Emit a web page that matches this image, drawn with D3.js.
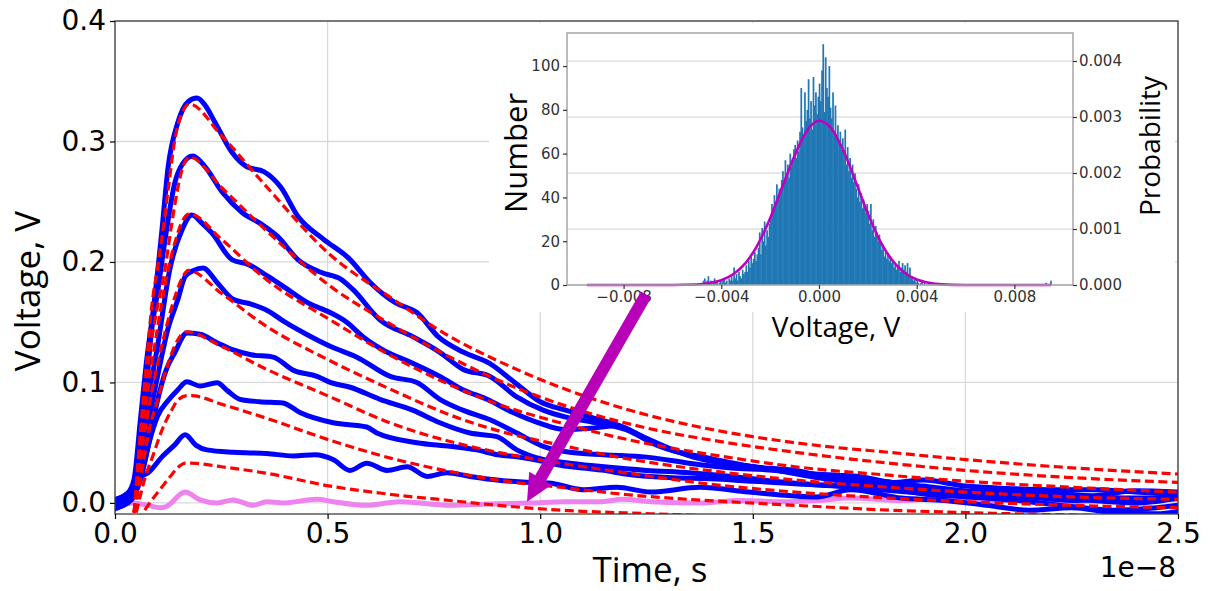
<!DOCTYPE html>
<html><head><meta charset="utf-8">
<script src="https://cdn.jsdelivr.net/npm/d3@7"></script>
<style>body{margin:0;background:#fff} svg{display:block}</style>
</head><body>
<svg id="c" width="1210" height="591"></svg>
<script>
// ---------------- DATA ----------------
const xTicks = [0, 0.5, 1.0, 1.5, 2.0, 2.5];
const yTicks = [0, 0.1, 0.2, 0.3, 0.4];
const xOffsetLabel = "1e\u22128";

// measured pulses (time in 1e-8 s, voltage V)
const measured1 = [[0,.003],[.03,.008],[.045,.02],[.06,.07],[.075,.12],[.09,.16],[.11,.225],[.125,.279],[.148,.316],[.172,.333],[.193,.336],[.21,.331],[.235,.316],[.275,.291],[.31,.279],[.35,.275],[.39,.262],[.43,.238],[.49,.219],[.55,.203],[.60,.183],[.66,.166],[.71,.158],[.76,.138],[.82,.125],[.88,.116],[.94,.100],[1.0,.084],[1.06,.077],[1.12,.071],[1.18,.065],[1.26,.052],[1.36,.038],[1.45,.032],[1.5,.030],[1.6,.025],[1.7,.023],[1.75,.022],[1.83,.017],[1.9,.019],[2.0,.014],[2.1,.012],[2.2,.011],[2.3,.011],[2.4,.009],[2.5,.007]];
const measured2 = [[0,-.004],[.03,0],[.05,.02],[.07,.08],[.085,.14],[.101,.177],[.118,.219],[.141,.266],[.16,.282],[.183,.288],[.212,.279],[.252,.258],[.299,.241],[.346,.231],[.383,.221],[.43,.202],[.487,.191],[.53,.186],[.56,.177],[.623,.152],[.70,.138],[.764,.125],[.818,.111],[.882,.105],[.945,.088],[1.007,.077],[1.063,.071],[1.124,.067],[1.2,.061],[1.28,.047],[1.4,.036],[1.5,.030],[1.6,.027],[1.7,.020],[1.8,.018],[1.9,.014],[2.0,.010],[2.1,.008],[2.2,.006],[2.3,.002],[2.4,0],[2.5,.004]];
const measured3 = [[0,.002],[.04,.01],[.06,.04],[.08,.09],[.10,.13],[.129,.194],[.158,.227],[.181,.239],[.205,.232],[.228,.224],[.275,.202],[.313,.198],[.36,.188],[.407,.177],[.454,.166],[.506,.158],[.545,.150],[.583,.138],[.63,.127],[.70,.116],[.764,.105],[.818,.094],[.875,.086],[.936,.075],[1.0,.066],[1.054,.061],[1.12,.062],[1.18,.064],[1.24,.055],[1.3,.045],[1.4,.037],[1.5,.030],[1.6,.025],[1.7,.020],[1.8,.016],[1.9,.013],[2.0,.009],[2.1,.010],[2.2,.006],[2.3,.005],[2.4,.004],[2.5,.005]];
const measured4 = [[0,-.005],[.04,.005],[.06,.03],[.08,.07],[.10,.105],[.125,.145],[.148,.169],[.165,.188],[.185,.193],[.207,.195],[.24,.183],[.278,.169],[.32,.165],[.357,.160],[.40,.150],[.45,.140],[.506,.130],[.569,.121],[.647,.105],[.71,.100],[.764,.086],[.818,.077],[.882,.069],[.945,.058],[1.007,.047],[1.07,.042],[1.15,.040],[1.25,.038],[1.35,.033],[1.45,.029],[1.55,.027],[1.65,.021],[1.75,.016],[1.85,.012],[1.95,.009],[2.05,.004],[2.15,.001],[2.25,-.003],[2.35,-.006],[2.45,-.004],[2.5,-.002]];
const measured5 = [[0,0],[.04,.005],[.06,.02],[.08,.05],[.10,.085],[.12,.11],[.141,.125],[.169,.141],[.20,.140],[.24,.133],[.278,.127],[.32,.123],[.372,.121],[.42,.110],[.475,.105],[.506,.100],[.553,.096],[.623,.086],[.70,.077],[.764,.0665],[.835,.058],[.898,.055],[.945,.044],[1.007,.036],[1.07,.033],[1.15,.030],[1.25,.027],[1.35,.025],[1.45,.022],[1.55,.018],[1.65,.015],[1.75,.013],[1.85,.010],[1.95,.006],[2.05,.008],[2.15,.005],[2.25,.002],[2.35,.003],[2.5,.004]];
const measured6 = [[0,-.004],[.04,.003],[.06,.02],[.08,.05],[.10,.072],[.125,.085],[.148,.094],[.169,.1006],[.20,.097],[.24,.0997],[.265,.093],[.294,.086],[.34,.084],[.395,.083],[.435,.075],[.513,.0665],[.592,.063],[.616,.058],[.71,.050],[.788,.047],[.85,.044],[.9,.040],[.95,.038],[1.0,.035],[1.05,.031],[1.1,.029],[1.15,.027],[1.2,.024],[1.3,.021],[1.4,.020],[1.5,.018],[1.6,.016],[1.7,.014],[1.8,.011],[1.9,.008],[2.0,.005],[2.1,.004],[2.2,.008],[2.3,.006],[2.4,.010],[2.5,.009]];
const measured7 = [[0,.002],[.03,.008],[.05,.015],[.063,.022],[.078,.025],[.11,.038],[.14,.048],[.165,.0565],[.19,.048],[.216,.044],[.28,.042],[.357,.041],[.42,.039],[.47,.040],[.513,.036],[.553,.027],[.592,.033],[.64,.027],[.687,.030],[.734,.022],[.78,.025],[.835,.022],[.898,.019],[.976,.017],[1.02,.0166],[1.10,.011],[1.18,.013],[1.26,.009],[1.376,.013],[1.49,.009],[1.65,.005],[1.73,.011],[1.85,.004],[1.95,.002],[2.05,-.002],[2.15,-.006],[2.25,-.004],[2.35,-.008],[2.45,-.009],[2.5,-.007]];
const noiseTrace = [[0,-.002],[.042,0],[.078,-.002],[.106,-.004],[.12,-.003],[.165,.009],[.2,.0025],[.24,0],[.278,.0025],[.325,-.002],[.357,.001],[.395,0],[.475,.003],[.513,.001],[.592,-.002],[.67,.001],[.788,-.002],[.88,-.001],[.98,0],[1.06,.001],[1.14,.001],[1.195,.003],[1.26,.001],[1.376,0],[1.47,.002],[1.57,.001],[1.65,.002],[1.73,.004],[1.85,.002],[1.95,.004],[2.05,.002],[2.15,.003],[2.25,.001],[2.35,.002],[2.5,.003]];

// fitted pulses
const fit1 = [[.045,-.008],[.06,.06],[.075,.12],[.087,.165],[.10,.195],[.11,.219],[.125,.26],[.141,.302],[.158,.324],[.175,.331],[.25,.305],[.35,.265],[.506,.206],[.65,.170],[.788,.138],[.9,.118],[1.047,.096],[1.2,.078],[1.36,.064],[1.5,.055],[1.67,.047],[1.82,.042],[2.0,.036],[2.215,.030],[2.5,.024]];
const fit2 = [[.045,-.008],[.06,.05],[.08,.12],[.10,.163],[.118,.195],[.134,.233],[.158,.277],[.175,.287],[.25,.262],[.35,.228],[.506,.180],[.65,.148],[.788,.121],[.9,.102],[1.047,.082],[1.24,.063],[1.44,.050],[1.6,.042],[1.82,.033],[2.0,.027],[2.25,.021],[2.5,.017]];
const fit3 = [[.045,-.008],[.06,.045],[.08,.10],[.10,.145],[.12,.185],[.14,.215],[.16,.235],[.175,.240],[.25,.219],[.35,.187],[.506,.152],[.65,.122],[.788,.098],[.9,.082],[1.047,.0665],[1.2,.053],[1.44,.038],[1.6,.030],[1.82,.023],[2.0,.018],[2.25,.013],[2.5,.009]];
const fit4 = [[.045,-.008],[.06,.035],[.08,.08],[.10,.115],[.12,.145],[.14,.170],[.16,.188],[.172,.193],[.25,.174],[.35,.148],[.506,.118],[.65,.094],[.788,.073],[.9,.060],[1.047,.048],[1.2,.037],[1.44,.025],[1.6,.019],[1.82,.013],[2.0,.009],[2.25,.005],[2.5,.003]];
const fit5 = [[.045,-.008],[.065,.03],[.08,.06],[.10,.085],[.12,.11],[.14,.13],[.16,.141],[.168,.142],[.25,.130],[.35,.112],[.506,.088],[.65,.066],[.788,.051],[.9,.042],[1.047,.033],[1.2,.025],[1.44,.014],[1.6,.009],[1.82,.004],[2.0,.001],[2.25,-.002],[2.5,-.004]];
const fit6 = [[.05,-.008],[.07,.02],[.09,.04],[.11,.06],[.13,.075],[.15,.086],[.17,.089],[.18,.089],[.25,.082],[.35,.071],[.506,.052],[.65,.037],[.788,.026],[.9,.019],[1.047,.013],[1.2,.007],[1.44,.001],[1.6,-.002],[1.82,-.006],[2.0,-.008],[2.25,-.010],[2.5,-.011]];
const fit7 = [[.07,-.006],[.09,.004],[.11,.013],[.13,.022],[.15,.030],[.165,.033],[.18,.033],[.25,.030],[.35,.025],[.506,.014],[.65,.007],[.788,.002],[.9,-.002],[1.047,-.006],[1.26,-.009],[1.5,-.012],[2.0,-.016],[2.5,-.019]];

const measuredSeries = [measured1, measured2, measured3, measured4, measured5, measured6, measured7];
const fitSeries = [fit1, fit2, fit3, fit4, fit5, fit6, fit7];

// inset histogram of noise voltage
const histStart = -0.0048, histBinWidth = 0.00005;
const histCounts = [
 0,2,3,1,2,4,
 1,2,0,1,3,1,2,0,1,2,
 1,2,3,1,2,0,3,2,4,2,
 8,3,5,2,6,4,3,7,5,6,
 9,6,11,8,13,10,12,15,11,14,
 17,24,14,26,20,29,18,25,22,28,
 30,37,33,41,36,46,39,44,42,48,
 52,47,57,50,55,49,60,54,58,62,
 64,58,66,61,70,90,72,68,88,75,
 80,94,76,84,71,95,82,88,78,86,
 92,84,98,110,79,104,90,86,100,81,
 76,88,70,82,68,73,65,70,62,67,
 60,71,55,63,52,58,49,55,47,51,
 44,40,46,38,42,35,39,36,33,37,
 34,28,37,25,30,22,27,24,20,23,
 19,16,18,13,15,12,14,11,13,10,
 11,8,10,7,9,11,6,8,10,7,
 9,6,10,5,8,4,3,2,3,1,
 2,1,0,1,2,0,1,0,0,1,
 0,1,0,0,0,1];
const histOutliers = [[0.0049,1],[0.0093,1],[0.0095,2]];
const gaussFit = [[-0.0095,0],[-0.006,0],[-0.005,0.2],[-0.0045,0.9],[-0.004,2.2],[-0.0035,5],[-0.003,10.1],[-0.0025,18.6],[-0.002,30.5],[-0.0015,44.9],[-0.001,59],[-0.0005,70.4],[0,75],[0.0005,71.6],[0.001,61.4],[0.0015,47.3],[0.002,32.6],[0.0025,20.2],[0.003,11.3],[0.0035,5.6],[0.004,2.5],[0.0045,1.0],[0.005,0.3],[0.006,0],[0.0095,0]];
const insetXTicks = [-0.008, -0.004, 0, 0.004, 0.008];
const insetCountTicks = [0, 20, 40, 60, 80, 100];
const insetProbTicks = [0, 0.001, 0.002, 0.003, 0.004];

// arrow annotation (main-axes data coordinates)
const arrowFrom = [1.249, 0.173], arrowTo = [0.969, 0.001];

// ---------------- DRAW ----------------
const svg = d3.select('#c');
const W = 1210, H = 591;
svg.append('rect').attr('width', W).attr('height', H).attr('fill', '#fff');

const M = {l:115, r:1178, t:21, b:514};
const x = d3.scaleLinear().domain([0, 2.5]).range([M.l, M.r]);
const y = d3.scaleLinear().domain([-0.0092, 0.4]).range([M.b, M.t]);

const TICKFONT = 'DejaVu Sans, sans-serif';
const LABFONT = '"Open Sans", "Noto Sans", sans-serif';

// grid
const grid = svg.append('g').attr('stroke', '#d9d9d9').attr('stroke-width', 1.3);
xTicks.forEach(t => grid.append('line').attr('x1', x(t)).attr('x2', x(t)).attr('y1', M.t).attr('y2', M.b));
yTicks.forEach(t => grid.append('line').attr('y1', y(t)).attr('y2', y(t)).attr('x1', M.l).attr('x2', M.r));

svg.append('clipPath').attr('id', 'clipMain').append('rect')
  .attr('x', M.l).attr('y', M.t).attr('width', M.r - M.l).attr('height', M.b - M.t);
const plot = svg.append('g').attr('clip-path', 'url(#clipMain)');
const line = d3.line().x(d => x(d[0])).y(d => y(d[1])).curve(d3.curveMonotoneX);

plot.append('path').datum(noiseTrace).attr('d', line).attr('fill', 'none')
  .attr('stroke', '#ee82ee').attr('stroke-width', 5).attr('stroke-linejoin', 'round');
measuredSeries.forEach(s => plot.append('path').datum(s).attr('d', line).attr('fill', 'none')
  .attr('stroke', '#0000ff').attr('stroke-width', 5).attr('stroke-linejoin', 'round').attr('stroke-linecap', 'round'));
fitSeries.forEach(s => plot.append('path').datum(s).attr('d', line).attr('fill', 'none')
  .attr('stroke', '#ff0000').attr('stroke-width', 3.2).attr('stroke-dasharray', '9,4.5'));

// spines
svg.append('rect').attr('x', M.l).attr('y', M.t).attr('width', M.r - M.l).attr('height', M.b - M.t)
  .attr('fill', 'none').attr('stroke', '#404040').attr('stroke-width', 1.3);

function styleAxis(g, size, color) {
  g.select('.domain').remove();
  g.selectAll('.tick line').attr('stroke', color).attr('stroke-width', 1.2);
  g.selectAll('.tick text').attr('font-family', TICKFONT).attr('font-size', size).attr('fill', color);
}
const gx = svg.append('g').attr('transform', `translate(0,${M.b})`)
  .call(d3.axisBottom(x).tickValues(xTicks).tickFormat(d3.format('.1f')).tickSize(5).tickPadding(4));
styleAxis(gx, 28, '#000');
const gy = svg.append('g').attr('transform', `translate(${M.l},0)`)
  .call(d3.axisLeft(y).tickValues(yTicks).tickFormat(d3.format('.1f')).tickSize(5).tickPadding(4));
styleAxis(gy, 28, '#000');

svg.append('text').attr('x', 1176).attr('y', 577).attr('text-anchor', 'end')
  .attr('font-family', TICKFONT).attr('font-size', 28).text(xOffsetLabel);
svg.append('text').attr('x', 650).attr('y', 582).attr('text-anchor', 'middle')
  .attr('font-family', LABFONT).attr('font-size', 35).text('Time, s');
svg.append('text').attr('transform', 'translate(40,291) rotate(-90)').attr('text-anchor', 'middle')
  .attr('font-family', LABFONT).attr('font-size', 35).text('Voltage, V');

// ---------------- INSET ----------------
const I = {l:567, r:1073, t:33, b:285};
svg.append('rect').attr('x', 489).attr('y', 23).attr('width', 1175 - 489).attr('height', 312 - 23).attr('fill', '#fff');
const ix = d3.scaleLinear().domain([-0.010317, 0.0104]).range([I.l, I.r]);
const iyC = d3.scaleLinear().domain([0, 115.1]).range([I.b, I.t]);
const iyP = d3.scaleLinear().domain([0, 0.0045]).range([I.b, I.t]);
const inset = svg.append('g');
insetProbTicks.forEach(t => inset.append('line').attr('x1', I.l).attr('x2', I.r).attr('y1', iyP(t)).attr('y2', iyP(t))
  .attr('stroke', '#e0e0e0').attr('stroke-width', 1.3));

const bins = histCounts.map((c, i) => [histStart + i * histBinWidth, c]).concat(
  histOutliers.map(o => [o[0] - histBinWidth / 2, o[1]]));
const bw = ix(histBinWidth) - ix(0);
inset.append('g').selectAll('rect').data(bins).join('rect')
  .attr('x', d => ix(d[0]) - 0.25).attr('width', bw + 0.5)
  .attr('y', d => iyC(d[1])).attr('height', d => iyC(0) - iyC(d[1]))
  .attr('fill', '#1f77b4');

const gline = d3.line().x(d => ix(d[0])).y(d => iyC(d[1])).curve(d3.curveMonotoneX);
inset.append('path').datum(gaussFit).attr('d', gline).attr('fill', 'none')
  .attr('stroke', '#c000c0').attr('stroke-width', 2.6);

inset.append('rect').attr('x', I.l).attr('y', I.t).attr('width', I.r - I.l).attr('height', I.b - I.t)
  .attr('fill', 'none').attr('stroke', '#a6a6a6').attr('stroke-width', 1.5);

const ig = inset.append('g').attr('transform', `translate(0,${I.b})`)
  .call(d3.axisBottom(ix).tickValues(insetXTicks).tickFormat(d3.format('.3f')).tickSize(4).tickPadding(2));
styleAxis(ig, 15, '#333');
const igl = inset.append('g').attr('transform', `translate(${I.l},0)`)
  .call(d3.axisLeft(iyC).tickValues(insetCountTicks).tickFormat(d3.format('d')).tickSize(4).tickPadding(3));
styleAxis(igl, 15, '#333');
const igr = inset.append('g').attr('transform', `translate(${I.r},0)`)
  .call(d3.axisRight(iyP).tickValues(insetProbTicks).tickFormat(d3.format('.3f')).tickSize(4).tickPadding(2));
styleAxis(igr, 15, '#333');

inset.append('text').attr('transform', 'translate(527,153) rotate(-90)').attr('text-anchor', 'middle')
  .attr('font-family', LABFONT).attr('font-size', 31).text('Number');
inset.append('text').attr('transform', 'translate(1160,146) rotate(-90)').attr('text-anchor', 'middle')
  .attr('font-family', LABFONT).attr('font-size', 28).text('Probability');
inset.append('text').attr('x', 836).attr('y', 337).attr('text-anchor', 'middle')
  .attr('font-family', LABFONT).attr('font-size', 28).text('Voltage, V');

// ---------------- ARROW ----------------
(function () {
  const x0 = x(arrowFrom[0]), y0 = y(arrowFrom[1]);
  const x1 = x(arrowTo[0]), y1 = y(arrowTo[1]);
  const dx = x1 - x0, dy = y1 - y0, L = Math.hypot(dx, dy);
  const ux = dx / L, uy = dy / L, nx = -uy, ny = ux;
  const hl = 27, hw = 13, sw = 6;
  const bx = x1 - ux * hl, by = y1 - uy * hl;
  const pts = [
    [x0 + nx * sw, y0 + ny * sw], [bx + nx * sw, by + ny * sw], [bx + nx * hw, by + ny * hw],
    [x1, y1], [bx - nx * hw, by - ny * hw], [bx - nx * sw, by - ny * sw], [x0 - nx * sw, y0 - ny * sw]];
  svg.append('polygon').attr('points', pts.map(p => p.join(',')).join(' ')).attr('fill', '#b800b8');
})();
</script>
</body></html>
